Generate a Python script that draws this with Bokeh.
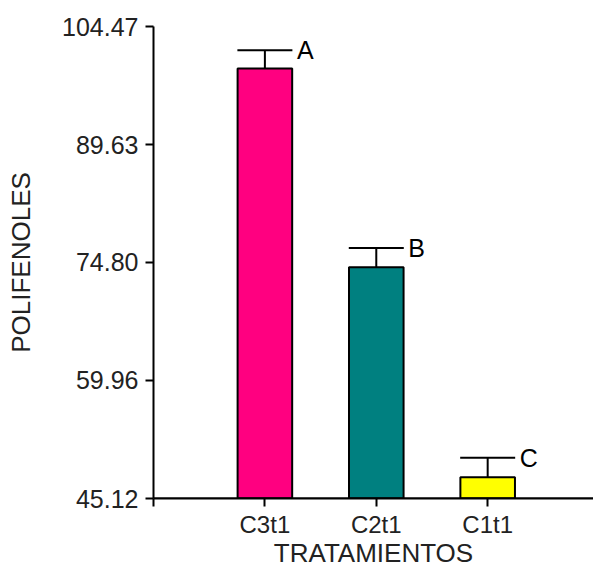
from bokeh.plotting import figure
from bokeh.models import Range1d, FixedTicker, PrintfTickFormatter, ColumnDataSource, Whisker, TeeHead, Span
from bokeh.core.properties import value
from bokeh.embed import file_html
from bokeh.resources import INLINE

categories = ["C3t1", "C2t1", "C1t1"]
means = [99.2, 74.2, 47.8]
errors = [2.27, 2.43, 2.43]
letters = ["A", "B", "C"]
colors = ["#FF0080", "#008080", "#FFFF00"]
yticks = [45.12, 59.96, 74.80, 89.63, 104.47]

FONT = "Liberation Sans"

xpos = [i + 1 for i in range(len(categories))]
src = ColumnDataSource(dict(
    x=xpos, top=means, upper=[m + e for m, e in zip(means, errors)],
    letter=letters, color=colors,
))

p = figure(width=593, height=572, output_backend="svg", toolbar_location=None,
           x_range=Range1d(0, 3.95), y_range=Range1d(yticks[0], yticks[-1]),
           min_border_left=153, min_border_top=26, min_border_right=0, min_border_bottom=74)

p.vbar(x="x", top="top", bottom=yticks[0], width=0.49, source=src,
       fill_color="color", line_color="black", line_width=2)

w = Whisker(base="x", lower="top", upper="upper", dimension="height", source=src,
            upper_head=TeeHead(size=55, line_width=2, line_color="black"),
            lower_head=None, line_width=2, line_color="black")
p.add_layout(w)

p.text(x="x", y="upper", text="letter", source=src, x_offset=32,
       text_baseline="middle", text_align="left",
       text_font=value(FONT), text_font_size="25px", text_color="black")

p.add_layout(Span(location=yticks[0], dimension="width", line_color="black", line_width=2))

p.xgrid.visible = False
p.ygrid.visible = False
p.outline_line_color = None
p.background_fill_color = "white"
p.border_fill_color = "white"

xa = p.xaxis[0]
xa.ticker = FixedTicker(ticks=[0] + xpos)
ov = {0: ""}
for xx, c in zip(xpos, categories):
    ov[xx] = c
xa.major_label_overrides = ov
xa.axis_label = "TRATAMIENTOS"

ya = p.yaxis[0]
ya.ticker = FixedTicker(ticks=yticks)
ya.formatter = PrintfTickFormatter(format="%.2f")
ya.axis_label = "POLIFENOLES"

for ax in (xa, ya):
    ax.axis_line_color = "black"
    ax.axis_line_width = 2
    ax.major_tick_line_color = "black"
    ax.major_tick_line_width = 2
    ax.major_tick_out = 8
    ax.major_tick_in = 0
    ax.minor_tick_line_color = None
    ax.major_label_text_font = FONT
    ax.major_label_text_color = "#222222"
    ax.axis_label_text_font = FONT
    ax.axis_label_text_font_size = "26px"
    ax.axis_label_text_font_style = "normal"
    ax.axis_label_text_color = "#222222"

xa.major_label_text_font_size = "24px"
ya.major_label_text_font_size = "25px"
xa.major_label_standoff = 4
xa.axis_label_standoff = -3
ya.major_label_standoff = 7
ya.axis_label_standoff = 23

open("out.html", "w").write(file_html(p, INLINE))
